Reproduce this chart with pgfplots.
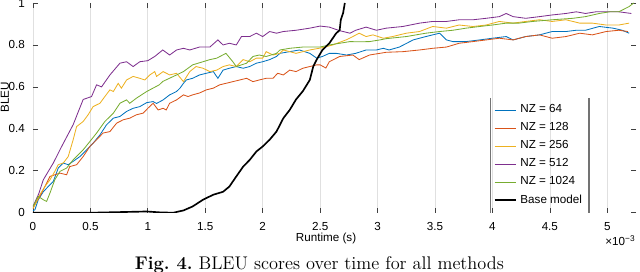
\documentclass[border=0pt]{standalone}
\usepackage{fontspec}
\usepackage{pgfplots}
\pgfplotsset{compat=1.18}
\usetikzlibrary{calc}
\newfontfamily\axfont{Liberation Sans}
\definecolor{mblue}{rgb}{0,0.447,0.741}
\definecolor{morange}{rgb}{0.85,0.325,0.098}
\definecolor{myellow}{rgb}{0.929,0.694,0.125}
\definecolor{mpurple}{rgb}{0.494,0.184,0.556}
\definecolor{mgreen}{rgb}{0.466,0.674,0.188}
\frenchspacing
\begin{document}
\begin{tikzpicture}
\begin{axis}[
  scale only axis, width=362.25pt, height=126pt,
  xmin=0, xmax=5.25, ymin=0, ymax=1,
  xtick={0,0.5,1,1.5,2,2.5,3,3.5,4,4.5,5},
  xticklabels={0,0.5,1,1.5,2,2.5,3,3.5,4,4.5,5},
  ytick={0,0.2,0.4,0.6,0.8,1},
  yticklabels={0,0.2,0.4,0.6,0.8,1},
  tick align=inside, major tick length=3pt,
  tick style={black!75, line width=0.4pt},
  axis line style={draw=none},
  xmajorgrids, grid style={black!12, line width=0.4pt},
  tick label style={font=\axfont\fontsize{7}{8}\selectfont},
  xticklabel style={yshift=-2.2pt},
  yticklabel style={xshift=-1.3pt},
  label style={font=\axfont\fontsize{7}{8}\selectfont},
  xlabel={Runtime (s)},
  xlabel style={at={(axis description cs:0.486,0)}, anchor=center, yshift=-15.3pt},
  ylabel={BLEU},
  ylabel style={at={(axis description cs:-0.0464,0.55)}, anchor=center},
  legend style={at={(axis cs:3.98,0.548)}, anchor=north west, draw=none, fill=none,
    font=\axfont\fontsize{7}{8}\selectfont, inner sep=2pt, row sep=0.4pt,
    name=leg},
  legend cell align=left,
  legend image code/.code={\draw[#1] (0pt,0pt) -- (13pt,0pt);},
  every axis plot/.append style={line width=0.5pt},
  clip=true,
]
\coordinate (SW) at (rel axis cs:0,0);
\coordinate (SE) at (rel axis cs:1,0);
\coordinate (NE) at (rel axis cs:1,1);
\addplot[mblue] coordinates {
(0.00,0.01) (0.017,0.014) (0.046,0.062) (0.09,0.10) (0.133,0.125) (0.177,0.149) (0.22,0.213) (0.264,0.237) (0.307,0.229) (0.35,0.245) (0.409,0.268) (0.467,0.30) (0.524,0.332) (0.583,0.371) (0.64,0.419) (0.70,0.451) (0.757,0.459) (0.815,0.483) (0.872,0.498) (0.93,0.506) (0.99,0.525) (1.046,0.53) (1.076,0.521) (1.133,0.538) (1.19,0.562) (1.25,0.578) (1.28,0.594) (1.31,0.617) (1.335,0.633) (1.39,0.641) (1.45,0.657) (1.51,0.665) (1.57,0.673) (1.61,0.641) (1.655,0.68) (1.71,0.689) (1.77,0.697) (1.83,0.689) (1.887,0.697) (1.945,0.713) (2.0,0.72) (2.06,0.73) (2.12,0.745) (2.15,0.76) (2.235,0.768) (2.32,0.776) (2.41,0.76) (2.47,0.737) (2.52,0.745) (2.58,0.76) (2.64,0.76) (2.73,0.752) (2.81,0.76) (2.90,0.776) (2.99,0.776) (3.05,0.784) (3.10,0.776) (3.19,0.79) (3.31,0.824) (3.42,0.84) (3.54,0.856) (3.60,0.824) (3.655,0.816) (3.77,0.816) (3.89,0.824) (4.00,0.832) (4.12,0.84) (4.18,0.824) (4.29,0.84) (4.41,0.848) (4.52,0.864) (4.64,0.864) (4.73,0.87) (4.81,0.87) (4.93,0.888) (5.05,0.88) (5.13,0.87) (5.19,0.856)
};
\addlegendentry{NZ = 64}
\addplot[morange] coordinates {
(0.0,0.02) (0.017,0.04) (0.06,0.078) (0.104,0.125) (0.148,0.173) (0.19,0.181) (0.235,0.189) (0.293,0.181) (0.32,0.22) (0.38,0.229) (0.437,0.268) (0.496,0.316) (0.554,0.348) (0.61,0.38) (0.67,0.387) (0.728,0.427) (0.785,0.443) (0.843,0.451) (0.90,0.467) (0.96,0.475) (1.0,0.498) (1.046,0.522) (1.09,0.49) (1.133,0.498) (1.16,0.49) (1.19,0.522) (1.25,0.538) (1.31,0.562) (1.35,0.554) (1.39,0.562) (1.45,0.571) (1.51,0.586) (1.57,0.594) (1.626,0.61) (1.68,0.617) (1.74,0.625) (1.80,0.633) (1.86,0.641) (1.915,0.625) (1.97,0.633) (2.03,0.641) (2.09,0.641) (2.13,0.665) (2.18,0.657) (2.235,0.68) (2.29,0.673) (2.35,0.689) (2.41,0.697) (2.47,0.705) (2.50,0.705) (2.55,0.69) (2.58,0.72) (2.67,0.745) (2.785,0.752) (2.84,0.73) (2.93,0.752) (3.075,0.765) (3.22,0.768) (3.365,0.776) (3.48,0.784) (3.60,0.79) (3.71,0.808) (3.83,0.816) (3.945,0.824) (4.06,0.832) (4.18,0.824) (4.29,0.84) (4.41,0.848) (4.52,0.832) (4.64,0.84) (4.76,0.856) (4.87,0.848) (4.99,0.864) (5.10,0.87) (5.18,0.864)
};
\addlegendentry{NZ = 128}
\addplot[myellow] coordinates {
(0.0,0.02) (0.02,0.04) (0.06,0.086) (0.104,0.125) (0.148,0.157) (0.19,0.197) (0.22,0.229) (0.264,0.237) (0.307,0.268) (0.35,0.348) (0.38,0.411) (0.437,0.435) (0.48,0.467) (0.524,0.506) (0.583,0.522) (0.626,0.554) (0.67,0.586) (0.70,0.578) (0.742,0.617) (0.77,0.594) (0.815,0.633) (0.872,0.65) (0.93,0.641) (0.974,0.633) (1.017,0.657) (1.06,0.673) (1.076,0.65) (1.133,0.673) (1.19,0.657) (1.25,0.665) (1.31,0.625) (1.365,0.673) (1.42,0.697) (1.48,0.689) (1.54,0.673) (1.60,0.68) (1.655,0.697) (1.71,0.705) (1.77,0.697) (1.83,0.73) (1.887,0.72) (1.945,0.737) (2.0,0.737) (2.03,0.768) (2.09,0.752) (2.15,0.76) (2.18,0.776) (2.29,0.76) (2.41,0.776) (2.52,0.787) (2.61,0.80) (2.73,0.825) (2.785,0.84) (2.84,0.856) (2.90,0.84) (2.96,0.848) (3.05,0.832) (3.13,0.84) (3.25,0.856) (3.365,0.864) (3.48,0.888) (3.60,0.88) (3.71,0.895) (3.83,0.888) (3.945,0.895) (4.06,0.912) (4.18,0.904) (4.29,0.912) (4.41,0.92) (4.52,0.912) (4.64,0.92) (4.76,0.904) (4.87,0.904) (4.99,0.895) (5.10,0.895) (5.19,0.904)
};
\addlegendentry{NZ = 256}
\addplot[mpurple] coordinates {
(0.0,0.03) (0.05,0.09) (0.09,0.157) (0.177,0.237) (0.25,0.316) (0.35,0.42) (0.437,0.54) (0.51,0.554) (0.554,0.61) (0.597,0.60) (0.67,0.657) (0.757,0.713) (0.815,0.72) (0.872,0.697) (0.93,0.72) (1.0,0.725) (1.06,0.745) (1.13,0.776) (1.19,0.752) (1.25,0.776) (1.31,0.784) (1.365,0.776) (1.45,0.79) (1.54,0.79) (1.61,0.824) (1.655,0.80) (1.71,0.808) (1.77,0.80) (1.815,0.84) (1.887,0.84) (1.945,0.856) (2.0,0.84) (2.06,0.864) (2.12,0.856) (2.18,0.864) (2.29,0.87) (2.41,0.88) (2.50,0.89) (2.58,0.885) (2.67,0.868) (2.76,0.856) (2.81,0.87) (2.90,0.885) (2.99,0.87) (3.075,0.88) (3.22,0.888) (3.365,0.904) (3.48,0.912) (3.60,0.912) (3.71,0.92) (3.83,0.92) (3.945,0.927) (4.06,0.935) (4.12,0.95) (4.18,0.935) (4.29,0.927) (4.41,0.935) (4.52,0.943) (4.64,0.95) (4.73,0.958) (4.81,0.95) (4.90,0.958) (5.02,0.958) (5.10,0.958) (5.21,0.95)
};
\addlegendentry{NZ = 512}
\addplot[mgreen] coordinates {
(0.0,0.03) (0.017,0.047) (0.046,0.078) (0.09,0.062) (0.119,0.054) (0.148,0.094) (0.19,0.157) (0.235,0.197) (0.293,0.213) (0.35,0.252) (0.437,0.30) (0.496,0.34) (0.554,0.38) (0.626,0.435) (0.70,0.475) (0.757,0.522) (0.815,0.538) (0.843,0.522) (0.90,0.546) (0.99,0.578) (1.10,0.61) (1.13,0.626) (1.25,0.657) (1.31,0.673) (1.39,0.705) (1.48,0.72) (1.54,0.73) (1.60,0.737) (1.68,0.76) (1.74,0.72) (1.77,0.697) (1.86,0.713) (1.915,0.745) (1.97,0.752) (2.03,0.745) (2.12,0.76) (2.15,0.776) (2.235,0.784) (2.35,0.79) (2.50,0.79) (2.58,0.80) (2.67,0.808) (2.76,0.816) (2.84,0.815) (2.93,0.816) (3.02,0.824) (3.075,0.83) (3.25,0.84) (3.42,0.856) (3.54,0.864) (3.655,0.87) (3.77,0.88) (3.89,0.888) (4.00,0.895) (4.12,0.904) (4.23,0.904) (4.35,0.912) (4.52,0.92) (4.70,0.927) (4.81,0.935) (4.93,0.95) (5.02,0.958) (5.10,0.958) (5.19,0.983) (5.23,1.0)
};
\addlegendentry{NZ = 1024}
\addplot[black, line width=1pt] coordinates {
(0,0) (0.5,0.0) (0.99,0.006) (1.10,0.002) (1.22,0.0) (1.31,0.011) (1.39,0.03) (1.48,0.062) (1.57,0.086) (1.655,0.10) (1.71,0.125) (1.77,0.173) (1.83,0.22) (1.887,0.252) (1.945,0.292) (2.0,0.316) (2.06,0.348) (2.12,0.387) (2.18,0.451) (2.235,0.49) (2.29,0.54) (2.35,0.58) (2.41,0.633) (2.44,0.697) (2.47,0.73) (2.52,0.776) (2.58,0.808) (2.64,0.856) (2.67,0.87) (2.68,0.92) (2.70,0.952) (2.715,1.0)
};
\addlegendentry{Base model}
\end{axis}
\draw[black!55, line width=0.7pt] (leg.north west) -- (leg.south west) (leg.north east) -- (leg.south east);
\node[anchor=east, font=\axfont\fontsize{7}{8}\selectfont, inner sep=0pt] at ($(SE)+(-0.6pt,-16.8pt)$) {×10\raisebox{0.6ex}{\fontsize{5}{6}\selectfont −3}};
\node[anchor=base, font=\fontsize{11}{13}\selectfont, inner sep=0pt] at ($(SW)+(172.1pt,-33.8pt)$) {\textbf{Fig.\ 4.}\ BLEU scores over time for all methods};
\pgfresetboundingbox
\path[use as bounding box] ($(SW)+(-19.8pt,-35.4pt)$) rectangle ($(NE)+(2.4pt,1.8pt)$);
\end{tikzpicture}
\end{document}
